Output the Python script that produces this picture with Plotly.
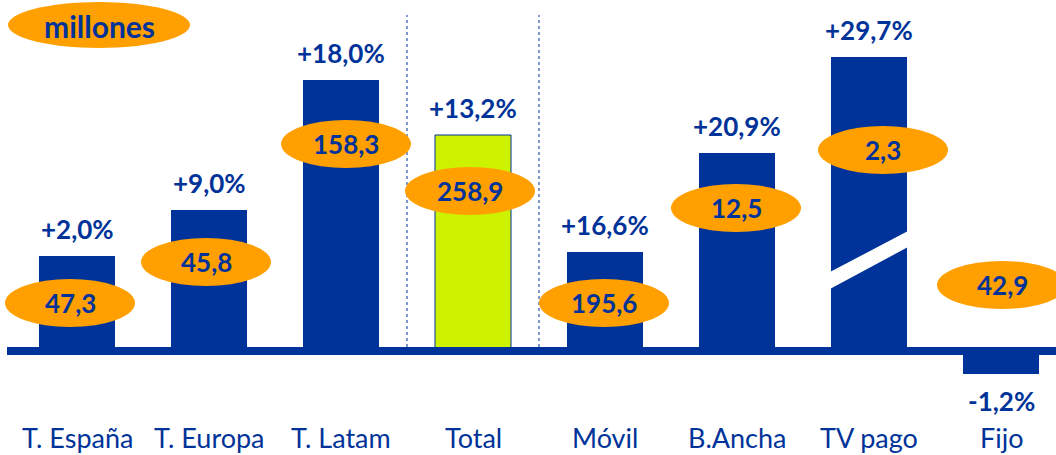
import plotly.graph_objects as go

# ---------------- data ----------------
categories = ["T. España", "T. Europa", "T. Latam", "Total", "Móvil", "B.Ancha", "TV pago", "Fijo"]
bar_height = [9.5, 14.1, 27.1, 21.6, 9.9, 19.8, 29.4, -2.3]     # drawn (stylised) bar heights
growth_labels = ["+2,0%", "+9,0%", "+18,0%", "+13,2%", "+16,6%", "+20,9%", "+29,7%", "-1,2%"]
value_labels = ["47,3", "45,8", "158,3", "258,9", "195,6", "12,5", "2,3", "42,9"]
unit_label = "millones"

# ---------------- style ----------------
BLUE = "#003399"
ORANGE = "#FFA000"
LIME = "#CCF200"
FONT = "Lato"
W, H = 1056, 455
PX_X = 132.0   # pixels per category unit
PX_Y = 10.0    # pixels per y unit
x_min = -77 / PX_X
y_min = -(H - 351) / PX_Y

# ellipse placement (pixels below bar top; x shift in pixels)
ell_off_px = [47, 52, 64, 56, 51, 55, 93, -66]
ell_dx_px = [-7, -3, 5, -3, -1, -1, 14, 1]

n = len(categories)
idx = list(range(n))
colors = [LIME if c == "Total" else BLUE for c in categories]
line_w = [1 if c == "Total" else 0 for c in categories]

fig = go.Figure()
fig.add_trace(go.Bar(
    x=idx, y=bar_height, width=76 / PX_X,
    marker=dict(color=colors, line=dict(color=BLUE, width=line_w)),
    hoverinfo="skip",
))

shapes = []
annotations = []

# baseline band
shapes.append(dict(type="rect", xref="paper", yref="y", x0=7 / W, x1=1, y0=-0.4, y1=0.4,
                   fillcolor=BLUE, line=dict(width=0), layer="above"))

# dotted separators around Total
ti = categories.index("Total")
for xv in (ti - 0.5, ti + 0.5):
    shapes.append(dict(type="line", xref="x", yref="y", x0=xv, x1=xv, y0=0.4, y1=33.6,
                       line=dict(color=BLUE, width=1, dash="dot"), layer="below"))

# TV pago break
tv = categories.index("TV pago")
shapes.append(dict(type="path", xref="x", yref="y", layer="above",
                   path=f"M {tv-0.31},{7.8} L {tv+0.31},{12.1} L {tv+0.31},{10.5} L {tv-0.31},{6.1} Z",
                   fillcolor="white", line=dict(width=0)))

for i, (h, g, v) in enumerate(zip(bar_height, growth_labels, value_labels)):
    # growth label
    annotations.append(dict(x=i, y=h, xref="x", yref="y", text=f"<b>{g}</b>", showarrow=False,
                            yanchor="middle", yshift=27 if h >= 0 else -27,
                            font=dict(family=FONT, size=26, color=BLUE)))
    # value ellipse
    top = max(h, 0)
    yc = top - ell_off_px[i] / PX_Y
    xc = i + ell_dx_px[i] / PX_X
    shapes.append(dict(type="circle", xref="x", yref="y", layer="above",
                       x0=xc - 65 / PX_X, x1=xc + 65 / PX_X, y0=yc - 2.4, y1=yc + 2.4,
                       fillcolor=ORANGE, line=dict(width=0)))
    annotations.append(dict(x=xc, y=yc, xref="x", yref="y", text=f"<b>{v}</b>", showarrow=False,
                            font=dict(family=FONT, size=26, color=BLUE)))
    # category label
    annotations.append(dict(x=i, y=-8.6, xref="x", yref="y", text=categories[i], showarrow=False,
                            font=dict(family=FONT, size=27, color=BLUE)))

# unit badge
shapes.append(dict(type="circle", xref="paper", yref="paper", x0=8 / W, x1=190 / W,
                   y0=1 - 48 / H, y1=1 - 2 / H, fillcolor=ORANGE, line=dict(width=0)))
annotations.append(dict(x=99 / W, y=1 - 26 / H, xref="paper", yref="paper", text=f"<b>{unit_label}</b>",
                        xanchor="center", yanchor="middle",
                        showarrow=False, font=dict(family=FONT, size=30, color=BLUE)))

fig.update_layout(
    width=W, height=H,
    margin=dict(l=0, r=0, t=0, b=0),
    paper_bgcolor="white", plot_bgcolor="white",
    showlegend=False,
    xaxis=dict(range=[x_min, x_min + W / PX_X], visible=False, fixedrange=True),
    yaxis=dict(range=[y_min, y_min + H / PX_Y], visible=False, fixedrange=True),
    shapes=shapes, annotations=annotations,
)

fig.write_html("out.html", config={"displayModeBar": False},
               post_script="document.body.style.margin='0';document.body.style.overflow='hidden';")
